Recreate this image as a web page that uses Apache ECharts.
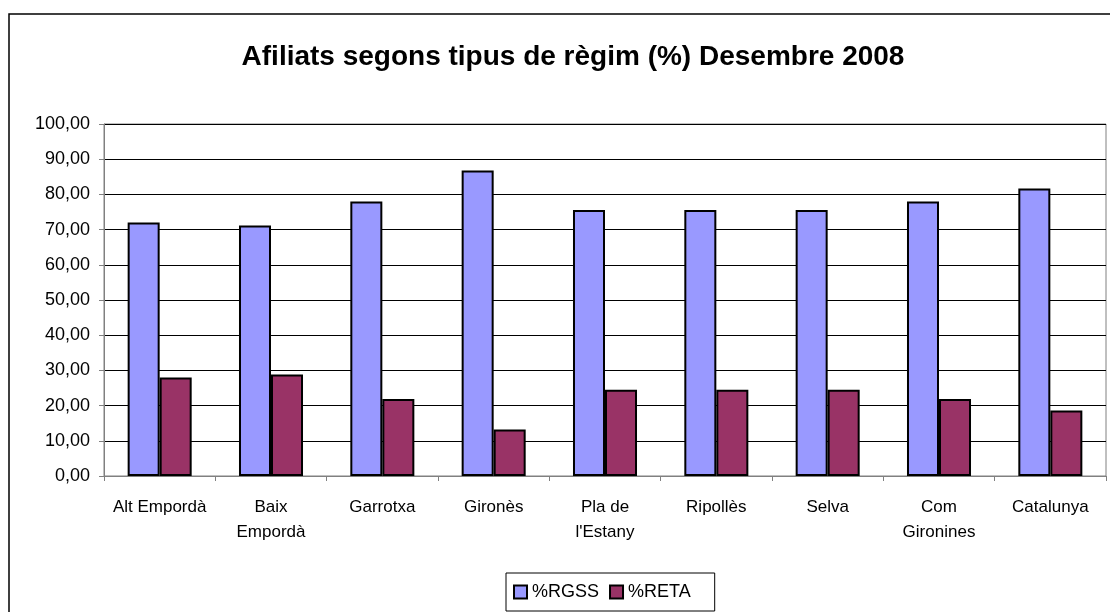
<!DOCTYPE html>
<html>
<head>
<meta charset="utf-8">
<script src="https://cdn.jsdelivr.net/npm/echarts@6/dist/echarts.min.js"></script>
<style>
  html, body { margin: 0; padding: 0; background: #fff; }
  #chart { width: 1110px; height: 612px; }
</style>
</head>
<body>
<div id="chart"></div>
<script>
// Affiliates by social security regime, December 2008 (percent)
const categories = ['Alt Empordà', 'Baix\nEmpordà', 'Garrotxa', 'Gironès', 'Pla de\nl\'Estany', 'Ripollès', 'Selva', 'Com\nGironines', 'Catalunya'];
const rgss = [72.0, 71.2, 78.0, 86.8, 75.6, 75.6, 75.6, 78.0, 81.7];
const reta = [28.0, 28.8, 21.9, 13.2, 24.5, 24.5, 24.5, 21.9, 18.6];
const seriesNames = ['%RGSS', '%RETA'];
const titleText = 'Afiliats segons tipus de règim (%) Desembre 2008';

const FONT = '"Liberation Sans", Arial, sans-serif';

const chart = echarts.init(document.getElementById('chart'), null, { renderer: 'canvas' });

chart.setOption({
  animation: false,
  backgroundColor: '#ffffff',
  title: {
    text: titleText,
    left: 568,
    top: 38,
    textAlign: 'center',
    textStyle: { fontFamily: FONT, fontSize: 28, fontWeight: 'bold', color: '#000' }
  },
  graphic: [{
    type: 'rect',
    shape: { x: 9, y: 14, width: 1200, height: 700 },
    style: { fill: null, stroke: '#000', lineWidth: 1.5 },
    silent: true,
    z: -1
  }],
  legend: {
    data: seriesNames,
    left: 506,
    top: 573,
    orient: 'horizontal',
    itemWidth: 13,
    itemHeight: 13,
    itemGap: 10,
    padding: [10, 24, 10, 7],
    borderColor: '#000',
    borderWidth: 1,
    icon: 'rect',
    textStyle: { fontFamily: FONT, fontSize: 18, color: '#000' }
  },
  grid: {
    left: 104,
    right: 4,
    top: 124,
    bottom: 136,
    show: true,
    borderColor: '#808080',
    borderWidth: 1
  },
  xAxis: {
    type: 'category',
    data: categories,
    axisLine: { lineStyle: { color: '#808080', width: 1 } },
    axisTick: { show: true, length: 5, lineStyle: { color: '#808080' } },
    axisLabel: {
      fontFamily: FONT, fontSize: 17, color: '#000',
      margin: 19, lineHeight: 25, interval: 0
    }
  },
  yAxis: {
    type: 'value',
    min: 0,
    max: 100,
    interval: 10,
    axisLine: { show: true, lineStyle: { color: '#808080', width: 1 } },
    axisTick: { show: true, length: 5, lineStyle: { color: '#808080' } },
    splitLine: { lineStyle: { color: '#000', width: 1 } },
    axisLabel: {
      fontFamily: FONT, fontSize: 18, color: '#000', margin: 14,
      formatter: v => v.toFixed(2).replace('.', ',')
    }
  },
  series: [
    {
      name: seriesNames[0],
      type: 'bar',
      data: rgss,
      barGap: '0%',
      barCategoryGap: '42.5%',
      itemStyle: { color: '#9999ff', borderColor: '#000', borderWidth: 2 }
    },
    {
      name: seriesNames[1],
      type: 'bar',
      data: reta,
      barGap: '0%',
      barCategoryGap: '42.5%',
      itemStyle: { color: '#993366', borderColor: '#000', borderWidth: 2 }
    }
  ]
});
</script>
</body>
</html>
